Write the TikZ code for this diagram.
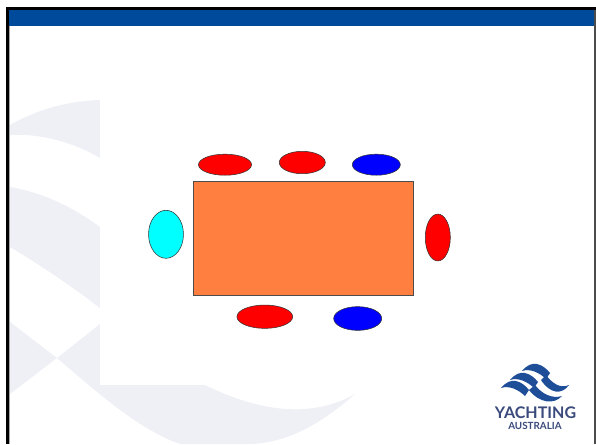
\documentclass[tikz,border=0pt]{standalone}
\usepackage{fontspec}
\setsansfont{Lato}
\definecolor{barblue}{HTML}{004A9B}
\definecolor{wmgrey}{HTML}{EFF0F6}
\definecolor{seatcyan}{HTML}{00FFFF}
\definecolor{tableorange}{HTML}{FF7F41}
\definecolor{logoblue}{HTML}{1F4E98}
\definecolor{logotext}{HTML}{3A4A7C}
\tikzset{
  seat/.style={ellipse, draw=black!80, line width=0.4pt, inner sep=0pt},
}
\usetikzlibrary{shapes.geometric}
\begin{document}
\begin{tikzpicture}[x=0.75pt, y=-0.75pt]
        \useasboundingbox (0,0) rectangle (596,444);

        % -- Watermark behind the slide --
        \begin{scope}
            \clip (10,26) rectangle (596,444);
            % Upper bands
            \fill[wmgrey] (10,125) .. controls (40,108) and (70,101) .. (100,100) -- (100,158) .. controls (75,143) and (40,133) .. (10,135) -- cycle;
            \fill[wmgrey] (10,187) .. controls (40,192) and (70,205) .. (100,227) -- (100,308) .. controls (70,285) and (40,265) .. (10,247) -- cycle;
            % Crossing
            \fill[wmgrey] (10,322) -- (57,358) -- (10,394) -- cycle;
            \fill[wmgrey] (57,358) -- (100,324) -- (205,385) .. controls (240,402) and (300,425) .. (355,394) .. controls (320,425) and (285,444) .. (247,444) -- (180,444) .. controls (140,430) and (100,395) .. (57,358) -- cycle;
            % Slide area kept white
            \fill[white] (100,60) rectangle (596,385);
        \end{scope}

        % -- Frame and title bar --
        \fill[barblue] (9,9.5) rectangle (594,26);
        \fill[black] (6,7) rectangle (596,9.5);
        \fill[black] (6,7) rectangle (9,444);
        \fill[gray!70] (9,26) rectangle (10,444);
        \fill[black!70] (594,9.5) rectangle (596,444);

        % -- Table and seats --
        \node[draw=black!70, line width=0.5pt, fill=tableorange, minimum width=165pt, minimum height=85.2pt, inner sep=0pt] (table) at (303.7,238.5) {};
        \node[seat, fill=red, minimum width=39.8pt, minimum height=15.8pt] (top1) at (225,164.7) {};
        \node[seat, fill=red, minimum width=34.5pt, minimum height=16.8pt] (top2) at (302.3,162.5) {};
        \node[seat, fill=blue, minimum width=36pt, minimum height=15.8pt] (top3) at (376.3,164.7) {};
        \node[seat, fill=seatcyan, minimum width=26.2pt, minimum height=36pt] (left1) at (166,234.3) {};
        \node[seat, fill=red, minimum width=18.8pt, minimum height=35.2pt] (right1) at (437.8,237.5) {};
        \node[seat, fill=red, minimum width=41.8pt, minimum height=17.5pt] (bottom1) at (264.8,316.7) {};
        \node[seat, fill=blue, minimum width=36pt, minimum height=17.8pt] (bottom2) at (357.7,318.5) {};

        % -- Logo --
        % Three waves
        \foreach \dx/\dy in {0/0, -12/9, -21/17}
            \fill[logoblue, shift={(\dx,\dy)}] (522,371) .. controls (527,365) and (532,363) .. (537,364) .. controls (542,365) and (547,369) .. (550,373) -- (546,379) .. controls (540,373) and (530,368) .. (522,371) -- cycle;
        % Two tails
        \fill[logoblue] (541,380) -- (546,375) .. controls (552,383) and (560,389) .. (569,385) .. controls (562,395) and (550,394) .. (541,380) -- cycle;
        \fill[logoblue] (529,390) -- (535,385) .. controls (542,394) and (552,399) .. (562,396) .. controls (554,405) and (539,403) .. (529,390) -- cycle;
        \node[font=\sffamily\bfseries, text=logotext, scale=1.2, inner sep=0pt] (logoname) at (535.5,413) {YACHTING};
        \node[font=\sffamily\bfseries, text=logotext, scale=0.74, inner sep=0pt] (logosub) at (535,425.5) {AUSTRALIA};
\end{tikzpicture}
\end{document}
